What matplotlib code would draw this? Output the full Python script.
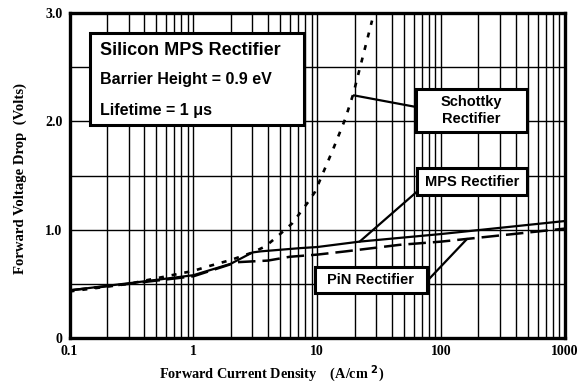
import numpy as np
import matplotlib.pyplot as plt
from matplotlib.patches import Rectangle
from matplotlib.ticker import FixedLocator, NullFormatter

# --- Data ---
current_mps = [0.1, 0.45, 1.0, 2.0, 3.0, 3.5, 7.3, 10, 22, 100, 750, 1000]
volt_mps = [0.44, 0.53, 0.58, 0.685, 0.79, 0.80, 0.83, 0.84, 0.89, 0.96, 1.065, 1.08]

current_pin = [0.1, 0.3, 1.0, 2.25, 4.0, 6.0, 10, 17, 46, 100, 162, 1000]
volt_pin = [0.44, 0.50, 0.57, 0.70, 0.715, 0.75, 0.77, 0.80, 0.86, 0.89, 0.915, 1.01]

current_sch = [0.1, 0.3, 1.0, 1.3, 2.0, 3.0, 3.8, 4.8, 6.3, 8.5, 9.6, 13.4, 16.8, 19.5, 27.7]
volt_sch = [0.43, 0.50, 0.62, 0.66, 0.72, 0.79, 0.845, 0.94, 1.06, 1.26, 1.35, 1.74, 2.02, 2.25, 2.93]

x_ticks = [0.1, 1, 10, 100, 1000]
x_ticklabels = ["0.1", "1", "10", "100", "1000"]
y_ticks = [0, 1.0, 2.0, 3.0]
y_ticklabels = ["0", "1.0", "2.0", "3.0"]

# --- Figure ---
fig = plt.figure(figsize=(5.87, 3.89), dpi=100)
ax = fig.add_axes([0.1184, 0.131, 0.8441, 0.8356])

ax.set_xscale("log")
ax.set_xlim(0.1, 1000)
ax.set_ylim(0, 3.0)

# grid: every log minor position, every 0.5 V
minor_x = [m * 10.0 ** e for e in range(-1, 3) for m in range(2, 10)]
ax.xaxis.set_minor_locator(FixedLocator(minor_x))
ax.xaxis.set_minor_formatter(NullFormatter())
ax.yaxis.set_minor_locator(FixedLocator([0.5, 1.5, 2.5]))
ax.grid(True, which="both", color="black", lw=1.0)
ax.set_axisbelow(True)
ax.tick_params(which="both", length=0)

serif = {"family": "Liberation Serif", "weight": "bold"}
ax.set_xticks(x_ticks)
ax.set_xticklabels(x_ticklabels, fontdict=dict(serif, size=10))
ax.set_yticks(y_ticks)
ax.set_yticklabels(y_ticklabels, fontdict=dict(serif, size=10))
ax.tick_params(axis="x", pad=5)
ax.tick_params(axis="y", pad=5)

for s in ax.spines.values():
    s.set_linewidth(2.4)

# curves
ax.plot(current_mps, volt_mps, color="black", lw=1.6, solid_capstyle="butt")
ax.plot(current_pin, volt_pin, color="black", lw=1.8, linestyle=(0, (7.0, 2.8)))
ax.plot(current_sch, volt_sch, color="black", lw=1.9, linestyle=(0, (1.9, 3.0)))

# axis labels
fig.text(0.4625, 0.012, "Forward Current Density    (A/cm $^{\\mathbf{2}}$)",
         ha="center", va="bottom", fontdict=dict(serif, size=10.3))
fig.text(0.034, 0.54, "Forward Voltage Drop  (Volts)", rotation=90,
         ha="center", va="center", fontdict=dict(serif, size=10.6))

# annotation boxes
sans = {"family": "Liberation Sans", "weight": "bold"}


def box(x0, y0, x1, y1):
    ax.add_patch(Rectangle((x0, y0), x1 - x0, y1 - y0, transform=ax.transAxes,
                           facecolor="white", edgecolor="black", lw=2.2, zorder=5))


box(0.041, 0.655, 0.473, 0.938)
ax.text(0.0616, 0.886, "Silicon MPS Rectifier", transform=ax.transAxes, va="center",
        fontdict=dict(sans, size=13), zorder=6)
ax.text(0.0616, 0.794, "Barrier Height = 0.9 eV", transform=ax.transAxes, va="center",
        fontdict=dict(sans, size=11.5), zorder=6)
ax.text(0.0616, 0.70, "Lifetime = 1 \u03bcs", transform=ax.transAxes, va="center",
        fontdict=dict(sans, size=11.5), zorder=6)

# Schottky
ax.annotate("", xy=(19.7, 2.24), xytext=(0.699, 0.711), textcoords=ax.transAxes,
            arrowprops=dict(arrowstyle="-", lw=1.6, color="black", shrinkA=0, shrinkB=0), zorder=4)
box(0.699, 0.634, 0.923, 0.766)
ax.text(0.811, 0.700, "Schottky\nRectifier", transform=ax.transAxes, ha="center", va="center",
        linespacing=1.2, fontdict=dict(sans, size=10.5), zorder=6)

# MPS
ax.annotate("", xy=(22, 0.89), xytext=(0.701, 0.45), textcoords=ax.transAxes,
            arrowprops=dict(arrowstyle="-", lw=1.6, color="black", shrinkA=0, shrinkB=0), zorder=4)
box(0.701, 0.44, 0.923, 0.523)
ax.text(0.812, 0.4815, "MPS Rectifier", transform=ax.transAxes, ha="center", va="center",
        fontdict=dict(sans, size=10.5), zorder=6)

# PiN
ax.annotate("", xy=(162, 0.915), xytext=(0.7215, 0.175), textcoords=ax.transAxes,
            arrowprops=dict(arrowstyle="-", lw=1.6, color="black", shrinkA=0, shrinkB=0), zorder=4)
box(0.496, 0.138, 0.7215, 0.218)
ax.text(0.608, 0.178, "PiN Rectifier", transform=ax.transAxes, ha="center", va="center",
        fontdict=dict(sans, size=10.5), zorder=6)

fig.savefig("out.png", dpi=100)
